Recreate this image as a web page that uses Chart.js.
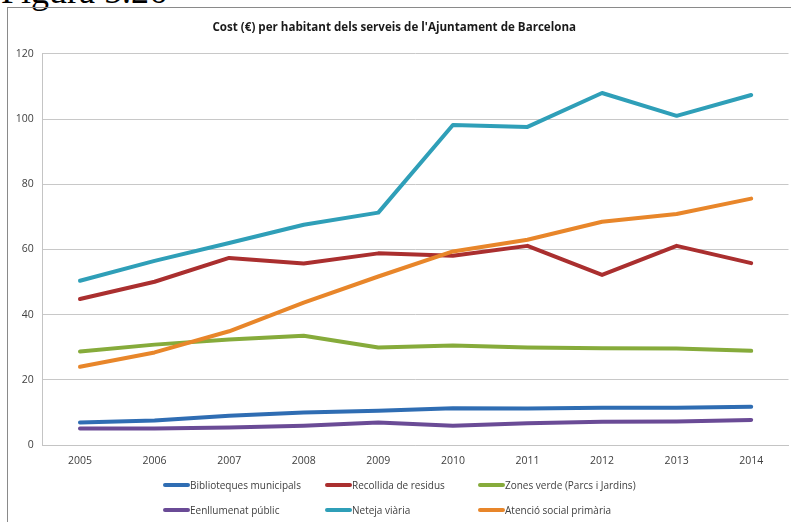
<!DOCTYPE html>
<html>
<head>
<meta charset="utf-8">
<script src="https://cdn.jsdelivr.net/npm/chart.js@4.4.1/dist/chart.umd.min.js"></script>
<style>
	body { margin: 0; background: #fff; }
	#wrap { position: relative; width: 791px; height: 522px; overflow: hidden; }
	#fig { position: absolute; left: 1px; top: -30px; font-family: "Liberation Serif", serif; font-size: 36px; color: #000; }
	#frame { position: absolute; left: 7px; top: 7px; width: 800px; height: 530px; border-left: 1.5px solid #8a8a8a; border-top: 1.5px solid #8a8a8a; }
	#chart { position: absolute; left: 0; top: 0; }
	.leg { position: absolute; font-family: "Open Sans", sans-serif; font-size: 10px; color: #404040; white-space: nowrap; line-height: 14px; }
	.leg span { display: inline-block; width: 27px; height: 4px; border-radius: 2px; vertical-align: middle; margin-top: -2px; }
</style>
</head>
<body>
<div id="wrap">
	<div id="fig">Figura 5.26</div>
	<div id="frame"></div>
	<canvas id="chart" width="791" height="522"></canvas>
</div>
<script>
const years = ["2005", "2006", "2007", "2008", "2009", "2010", "2011", "2012", "2013", "2014"];
const biblioteques = [6.9, 7.5, 9.0, 10.0, 10.5, 11.3, 11.2, 11.4, 11.4, 11.7];
const recollida = [44.8, 50.1, 57.4, 55.7, 58.8, 58.1, 61.1, 52.2, 61.1, 55.8];
const zonesVerdes = [28.7, 30.8, 32.4, 33.5, 29.9, 30.5, 29.9, 29.7, 29.6, 28.9];
const enllumenat = [5.1, 5.1, 5.4, 5.9, 6.9, 5.9, 6.7, 7.1, 7.2, 7.7];
const neteja = [50.4, 56.5, 62.0, 67.6, 71.3, 98.2, 97.6, 108.0, 101.0, 107.4];
const atencio = [24.0, 28.4, 34.9, 43.7, 51.7, 59.4, 63.0, 68.5, 70.9, 75.6];

const seriesInfo = [
	{ label: "Biblioteques municipals", data: biblioteques, color: "#2f6db3" },
	{ label: "Recollida de residus", data: recollida, color: "#aa2f2f" },
	{ label: "Zones verde (Parcs i Jardins)", data: zonesVerdes, color: "#86ab3b" },
	{ label: "Eenllumenat públic", data: enllumenat, color: "#6a4b96" },
	{ label: "Neteja viària", data: neteja, color: "#2f9fb8" },
	{ label: "Atenció social primària", data: atencio, color: "#e8862a" },
];

const datasets = seriesInfo.map((s, i) => ({
	label: s.label,
	data: s.data,
	borderColor: s.color,
	backgroundColor: s.color,
	borderWidth: 4,
	pointRadius: 0,
	tension: 0,
	fill: false,
	borderCapStyle: "round",
	borderJoinStyle: "round",
	order: seriesInfo.length - i,
}));

const tickFont = { family: "Open Sans", size: 10.5 };

new Chart(document.getElementById("chart"), {
	type: "line",
	data: { labels: years, datasets: datasets },
	options: {
		responsive: false,
		animation: false,
		layout: { padding: { left: 0, right: 2.5, top: 0, bottom: 0 } },
		plugins: {
			legend: { display: false },
			tooltip: { enabled: false },
			title: {
				display: true,
				text: "Cost (€) per habitant dels serveis de l'Ajuntament de Barcelona",
				color: "#1a1a1a",
				font: { family: "Open Sans", size: 11.6, weight: "bold" },
				padding: { top: 21, bottom: 19 },
			},
		},
		scales: {
			x: {
				offset: true,
				grid: { display: false, drawTicks: false },
				border: { color: "#c4c4c4", width: 1 },
				ticks: { color: "#404040", font: tickFont, padding: 10, maxRotation: 0 },
				afterFit: (scale) => { scale.height = 77.0; },
			},
			y: {
				min: 0,
				max: 120,
				ticks: { stepSize: 20, color: "#404040", font: tickFont, padding: 9 },
				grid: { color: "#c8c8c8", drawTicks: false },
				border: { color: "#c4c4c4", width: 1 },
				afterFit: (scale) => { scale.width = 42.7; },
			},
		},
	},
});

// legend as html, three columns by two rows
const legendCols = [163, 325, 478];
const legendRows = [478, 503];
seriesInfo.forEach((s, i) => {
	const item = document.createElement("div");
	item.className = "leg";
	item.style.left = legendCols[i % 3] + "px";
	item.style.top = legendRows[Math.floor(i / 3)] + "px";
	item.innerHTML = `<span style="background:${s.color}"></span>${s.label}`;
	document.getElementById("wrap").appendChild(item);
});
</script>
</body>
</html>
